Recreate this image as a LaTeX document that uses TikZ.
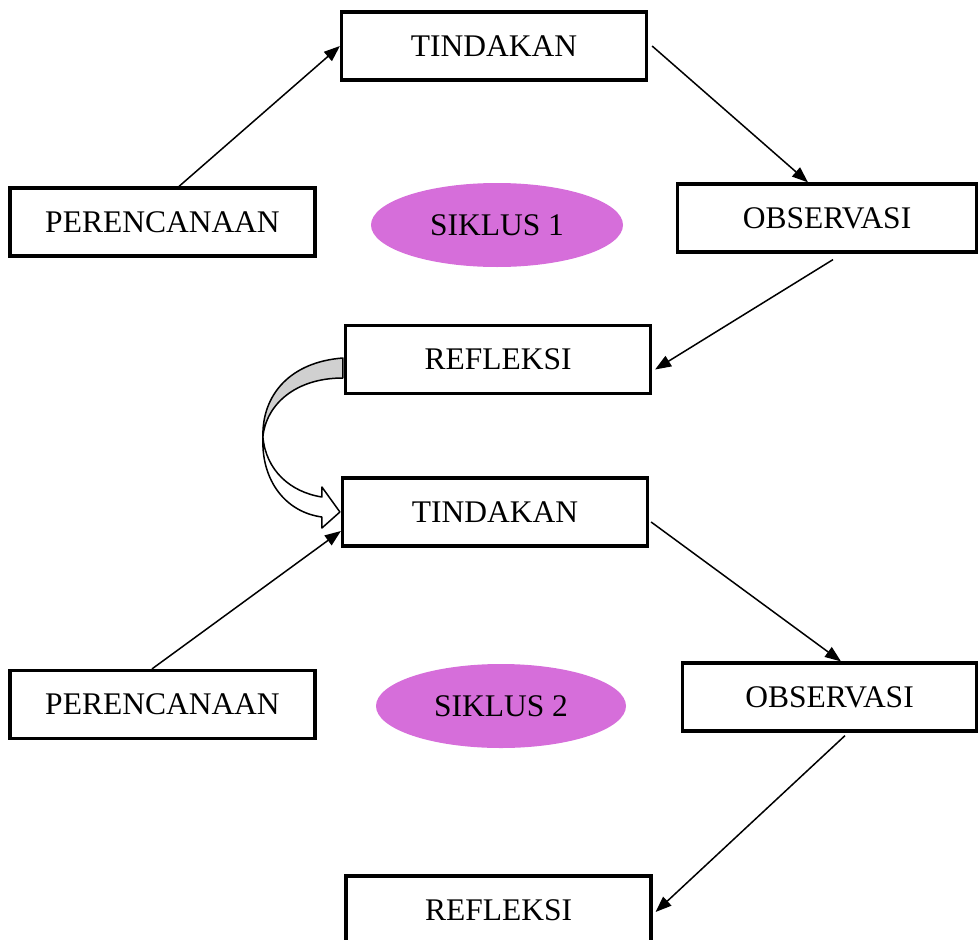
\documentclass[tikz,border=0pt]{standalone}
\usepackage{fontspec}
\setmainfont{Liberation Serif}
\usetikzlibrary{arrows.meta,calc,shapes.geometric}
\definecolor{siklus}{RGB}{214,110,218}
\definecolor{bandgray}{RGB}{208,208,208}
\begin{document}
\begin{tikzpicture}[x=1pt,y=-1pt,
  box/.style={draw,line width=3.2pt,minimum width=305pt,minimum height=68pt,inner sep=0pt,
    font=\fontsize{31.5}{36}\selectfont},
  cyc/.style={ellipse,fill=siklus,minimum width=252pt,minimum height=84pt,inner sep=0pt,
    font=\fontsize{31.5}{36}\selectfont},
  conn/.style={line width=1.5pt,-{Triangle[length=16pt,width=12pt]}},
  band/.style={draw,line width=1.5pt,line join=round}]
\useasboundingbox (0,0) rectangle (979,939);
% cycle 1
\node[box] (tin1) at (494,46) {TINDAKAN};
\node[box] (per1) at (162.5,222) {PERENCANAAN};
\node[box,minimum width=299pt] (obs1) at (827,218) {OBSERVASI};
\node[box] (ref1) at (498,359.5) {REFLEKSI};
\node[cyc] (sik1) at (497,225) {SIKLUS 1};
% cycle 2
\node[box] (tin2) at (495,512) {TINDAKAN};
\node[box] (per2) at (162.5,704.5) {PERENCANAAN};
\node[box,minimum width=294pt] (obs2) at (829.5,697) {OBSERVASI};
\node[box] (ref2) at (498.5,910) {REFLEKSI};
\node[cyc,minimum width=250pt] (sik2) at (501,706) {SIKLUS 2};
% connectors cycle 1
\draw[conn] ([xshift=16.5pt]per1.north) -- (tin1.west);
\draw[conn] ([xshift=4pt]tin1.east) -- ([xshift=-19pt]obs1.north);
\draw[conn] ([xshift=6pt,yshift=-6pt]obs1.south) -- ([xshift=3pt,yshift=-10pt]ref1.east);
% connectors cycle 2
\draw[conn] ([xshift=-10.5pt]per2.north) -- ([yshift=-19pt]tin2.west);
\draw[conn] ([xshift=2pt,yshift=-10pt]tin2.east) -- ([xshift=11.5pt]obs2.north);
\draw[conn] ([xshift=15.5pt,yshift=-3pt]obs2.south) -- ([xshift=3pt,yshift=-2pt]ref2.east);
% curved block arrow from REFLEKSI to TINDAKAN
\coordinate (r) at (ref1.west);
\coordinate (t) at (tin2.west);
\path[band,fill=bandgray]
  ($(r)+(-1,-1.5)$) .. controls ($(r)+(-54,2.5)$) and ($(r)+(-82,35.5)$) .. ($(r)+(-81,77.5)$)
  .. controls ($(r)+(-78,45.5)$) and ($(r)+(-49,18.5)$) .. ($(r)+(-1,18.5)$) -- cycle;
\path[band,fill=white]
  ($(r)+(-81,77.5)$) .. controls ($(t)+(-75,-42)$) and ($(t)+(-51,-20)$) .. ($(t)+(-19,-15)$)
  -- ($(t)+(-19,-25)$) -- ($(t)+(-1,0)$) -- ($(t)+(-19,16)$) -- ($(t)+(-19,5)$)
  .. controls ($(t)+(-56,0)$) and ($(t)+(-79,-32)$) .. ($(r)+(-81,80.5)$) -- cycle;
\end{tikzpicture}
\end{document}
